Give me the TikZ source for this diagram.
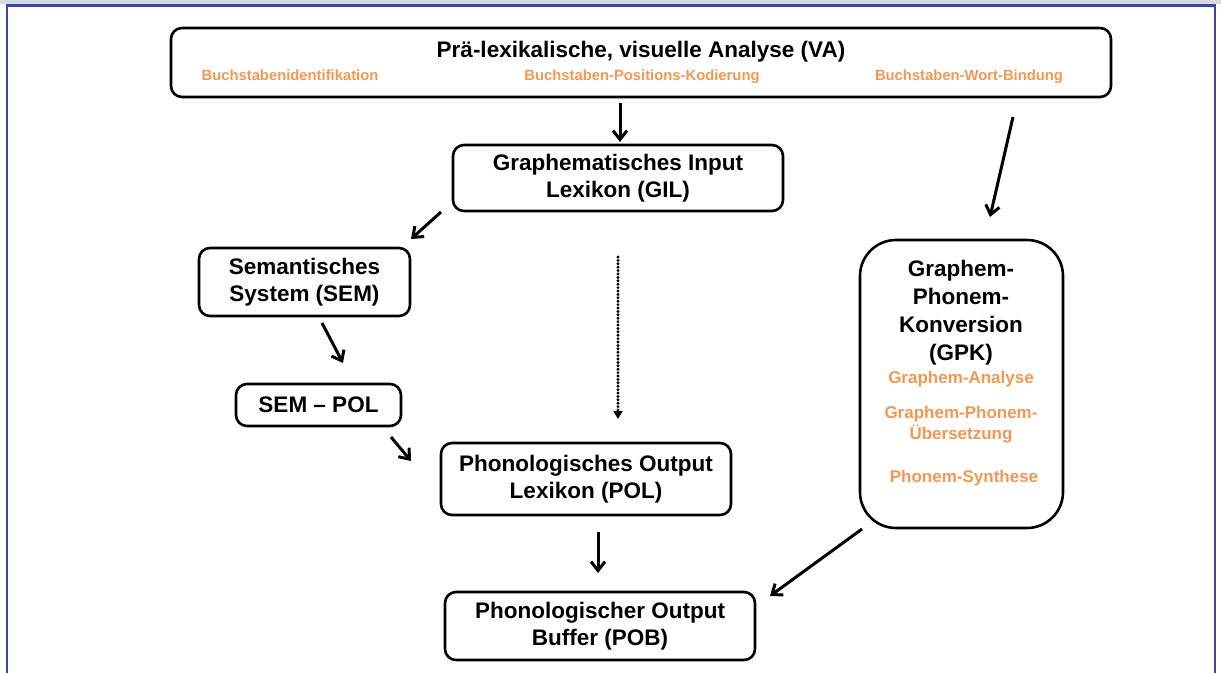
\documentclass[tikz,border=0pt]{standalone}
\usepackage{fontspec}
\setmainfont{Liberation Sans}
\usetikzlibrary{arrows.meta}
\definecolor{orangetxt}{RGB}{240,152,84}
\definecolor{framblue}{RGB}{58,72,160}
\definecolor{topgrey}{RGB}{214,218,228}
\begin{document}
\begin{tikzpicture}[x=1pt,y=-1pt,
  box/.style={draw=black,line width=2.6pt,rounded corners=11pt,inner sep=0pt,align=center,
    font=\fontsize{22.5}{27}\selectfont\bfseries},
  otxt/.style={text=orangetxt,inner sep=0pt,anchor=base,font=\fontsize{14.8}{17}\selectfont\bfseries},
  gtxt/.style={text=orangetxt,inner sep=0pt,align=center,font=\fontsize{17}{22}\selectfont\bfseries},
  btxt/.style={inner sep=0pt,align=center,font=\fontsize{22.5}{28}\selectfont\bfseries},
  arr/.style={line width=3pt,-{Straight Barb[length=9pt,width=14pt,line width=3pt]}},
  dotarr/.style={line width=3.2pt,line cap=round,dash pattern=on 0pt off 3.4pt,-{Triangle[length=8pt,width=9pt,line cap=butt]}}]
\useasboundingbox (0,0) rectangle (1221,673);
\fill[white] (0,0) rectangle (1221,673);
\fill[topgrey] (0,0) rectangle (1221,4);
\draw[framblue,line width=2.5pt] (7,673) -- (7,5.5) -- (1215,5.5) -- (1215,673);

% boxes
\node[box,minimum width=940pt,minimum height=69pt] (va) at (641,62.5) {};
\node[btxt] (vatitle) at (641,52) {Prä-lexikalische, visuelle Analyse (VA)};
\node[otxt] (va1) at (290,80) {Buchstabenidentifikation};
\node[otxt] (va2) at (642,80) {Buchstaben-Positions-Kodierung};
\node[otxt] (va3) at (969,80) {Buchstaben-Wort-Bindung};

\node[box,minimum width=330pt,minimum height=66pt] (gil) at (618,178) {Graphematisches Input\\Lexikon (GIL)};
\node[box,minimum width=211pt,minimum height=68pt] (sem) at (304.5,282) {Semantisches\\System (SEM)};
\node[box,minimum width=165pt,minimum height=42pt] (sempol) at (318.5,405) {SEM -- POL};
\node[box,minimum width=290pt,minimum height=72pt] (pol) at (586,479) {Phonologisches Output\\Lexikon (POL)};
\node[box,minimum width=310pt,minimum height=68pt] (pob) at (600,626) {Phonologischer Output\\Buffer (POB)};
\node[box,rounded corners=36pt,minimum width=203pt,minimum height=288pt] (gpk) at (961.5,384) {};
\node[btxt] (gpkt) at (961,313) {Graphem-\\Phonem-\\Konversion\\(GPK)};
\node[gtxt] (gpk1) at (961,379) {Graphem-Analyse};
\node[gtxt,font=\fontsize{17}{21}\selectfont\bfseries] (gpk2) at (961,425) {Graphem-Phonem-\\Übersetzung};
\node[gtxt] (gpk3) at (964,478) {Phonem-Synthese};

% arrow end points
\coordinate (a1s) at (620,103); \coordinate (a1e) at (620,142);
\coordinate (a2s) at (1013,117); \coordinate (a2e) at (990,217);
\coordinate (a3s) at (441,212); \coordinate (a3e) at (411,239);
\coordinate (a4s) at (322,323); \coordinate (a4e) at (343,363);
\coordinate (a5s) at (391,437); \coordinate (a5e) at (411,461);
\coordinate (a6s) at (618,257); \coordinate (a6e) at (618,419);
\coordinate (a7s) at (598,532); \coordinate (a7e) at (598,573);
\coordinate (a8s) at (862,529); \coordinate (a8e) at (770,596);

\draw[arr] (a1s) -- (a1e);
\draw[arr] (a2s) -- (a2e);
\draw[arr] (a3s) -- (a3e);
\draw[arr] (a4s) -- (a4e);
\draw[arr] (a5s) -- (a5e);
\draw[dotarr] (a6s) -- (a6e);
\draw[arr] (a7s) -- (a7e);
\draw[arr] (a8s) -- (a8e);
\end{tikzpicture}
\end{document}
